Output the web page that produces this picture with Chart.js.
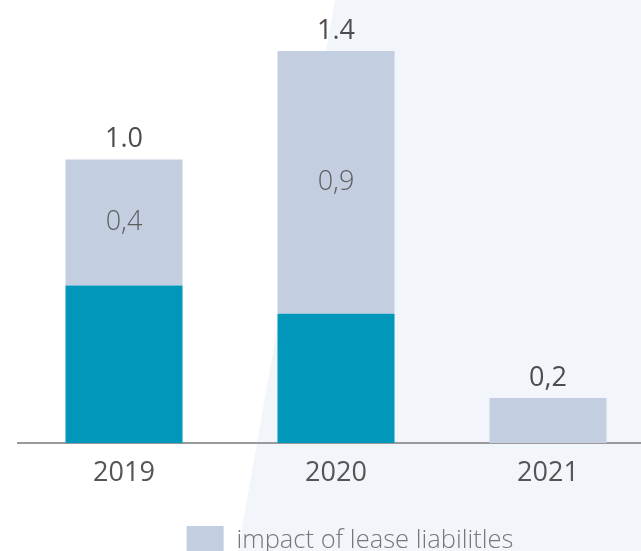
<!DOCTYPE html>
<html>
<head>
<meta charset="utf-8">
<script src="https://cdn.jsdelivr.net/npm/chart.js@4/dist/chart.umd.min.js"></script>
<style>
  html, body { margin: 0; padding: 0; width: 641px; height: 551px; overflow: hidden; background: #ffffff; }
  #bg { position: absolute; left: 0; top: 0; width: 641px; height: 551px; background: #f2f5fa;
        clip-path: polygon(335px 0, 641px 0, 641px 551px, 238px 551px); }
  #wrap { position: absolute; left: 0; top: 0; width: 654px; height: 566px; }
</style>
</head>
<body>
<div id="bg"></div>
<div id="wrap"><canvas id="c" width="654" height="566"></canvas></div>
<script>
const categories = ['2019', '2020', '2021'];
const baseValues = [0.555, 0.456, 0];
const leaseValues = [0.445, 0.926, 0.159];
const totalLabels = ['1.0', '1.4', '0,2'];
const leaseLabels = ['0,4', '0,9', ''];
const legendLabel = 'impact of lease liabilitles';

const FONT = "'Open Sans', 'Noto Sans', sans-serif";

const valueLabels = {
  id: 'valueLabels',
  afterLayout(chart) {
    if (chart.legend) { chart.legend.left += 14; chart.legend.right += 14; }
  },
  afterDatasetsDraw(chart) {
    const ctx = chart.ctx;
    const m1 = chart.getDatasetMeta(1);
    ctx.save();
    ctx.textAlign = 'center';
    categories.forEach((c, i) => {
      const bar = m1.data[i];
      const top = bar.y;
      ctx.font = '27px ' + FONT;
      ctx.fillStyle = '#4d4d4d';
      ctx.textBaseline = 'alphabetic';
      ctx.fillText(totalLabels[i], bar.x, top - 12);
      if (leaseLabels[i]) {
        const bottom = bar.base;
        ctx.font = '300 27px ' + FONT;
        ctx.fillStyle = '#5e5e5e';
        ctx.textBaseline = 'middle';
        ctx.fillText(leaseLabels[i], bar.x, (top + bottom) / 2);
      }
    });
    ctx.restore();
  }
};

new Chart(document.getElementById('c'), {
  type: 'bar',
  data: {
    labels: categories,
    datasets: [
      { label: 'base', data: baseValues, backgroundColor: '#0097bb', barPercentage: 0.552, categoryPercentage: 1.0 },
      { label: legendLabel, data: leaseValues, backgroundColor: '#c3cee0', barPercentage: 0.552, categoryPercentage: 1.0 }
    ]
  },
  options: {
    responsive: false,
    animation: false,
    layout: { padding: { left: 18, right: 0, top: 0, bottom: 0 } },
    scales: {
      x: {
        stacked: true,
        grid: { display: false, drawTicks: false },
        border: { display: true, color: '#9a9a9a', width: 2 },
        ticks: { color: '#555555', font: { family: FONT, size: 27 }, padding: 14 },
        afterFit(s) { s.height = 73; }
      },
      y: {
        stacked: true,
        display: false,
        min: 0,
        max: 1.562
      }
    },
    plugins: {
      legend: {
        position: 'bottom',
        labels: {
          filter: (item) => item.datasetIndex === 1,
          boxWidth: 37,
          boxHeight: 30,
          color: '#777777',
          font: { family: FONT, size: 25.5, weight: '300' },
          padding: 10
        }
      },
      tooltip: { enabled: false }
    }
  },
  plugins: [valueLabels]
});
</script>
</body>
</html>
